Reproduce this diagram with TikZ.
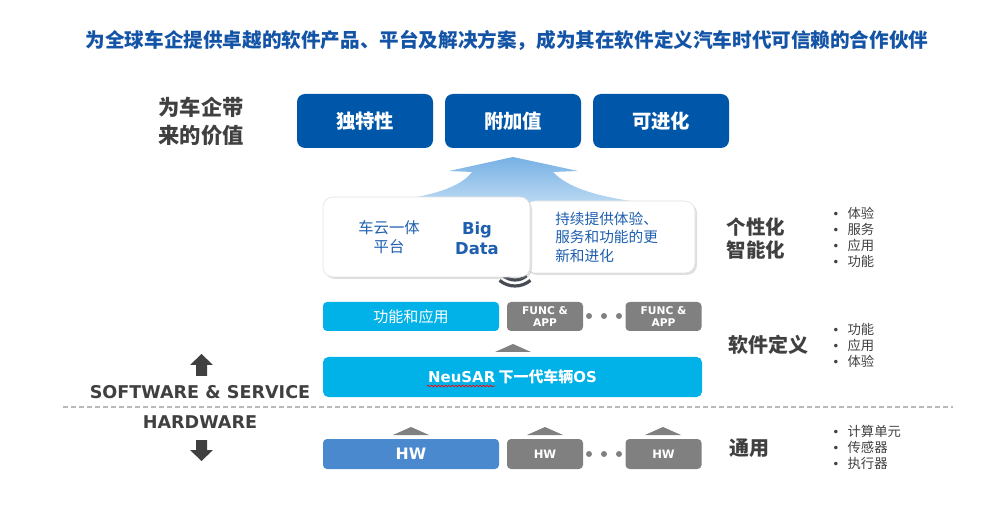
\documentclass[tikz,border=0pt]{standalone}
\usepackage{fontspec}
\setmainfont{Noto Sans CJK SC}
\newfontfamily\cjk{Noto Sans CJK SC}
\newfontfamily\dv{DejaVu Sans}
\usetikzlibrary{shadows,decorations.pathmorphing}
\definecolor{titleblue}{RGB}{20,84,166}
\definecolor{darkblue}{RGB}{0,86,168}
\definecolor{txtblue}{RGB}{30,95,175}
\definecolor{cyanb}{RGB}{0,178,232}
\definecolor{hwblue}{RGB}{74,137,206}
\definecolor{boxgray}{RGB}{128,128,128}
\definecolor{txtgray}{RGB}{64,64,64}
\definecolor{arrowgray}{RGB}{85,85,85}
\definecolor{dashgray}{RGB}{185,185,185}
\definecolor{wifigray}{RGB}{70,75,85}
\definecolor{arrtop}{RGB}{118,176,228}
\definecolor{arrbot}{RGB}{205,228,246}
\newcommand{\bul}[1]{\makebox[11.5pt][l]{\dv\fontsize{9}{10}\selectfont •}#1}
\begin{document}
\begin{tikzpicture}[x=0.75pt,y=-0.75pt,
  valbox/.style={fill=darkblue, rounded corners=6pt, text=white, inner sep=0pt,
    minimum width=102pt, minimum height=40.5pt, font=\cjk\bfseries\fontsize{14.5}{17}\selectfont},
  whitebox/.style={fill=white, draw=black!12, rounded corners=7.5pt, inner sep=0pt,
    drop shadow={opacity=0.25, shadow xshift=1.5pt, shadow yshift=-1.5pt}},
  bluetxt/.style={text=txtblue, align=center, inner sep=0pt},
  smallbox/.style={rounded corners=3pt, inner sep=0pt, minimum height=21.75pt, text=white},
  graybox/.style={smallbox, fill=boxgray, minimum width=57pt},
  graytxt/.style={text=txtgray, inner sep=0pt},
  tri/.style={fill=boxgray},
  dotc/.style={circle, fill=boxgray, inner sep=0pt, minimum size=4.5pt},
  bullets/.style={text=txtgray, anchor=west, align=left, inner sep=0pt, font=\cjk\fontsize{10}{12}\selectfont},
  sidelabel/.style={text=txtgray, inner sep=0pt, align=center, font=\cjk\bfseries\fontsize{14.6}{17.3}\selectfont},
  bigarrow/.style={fill=txtgray}
]
\useasboundingbox (0,0) rectangle (1000,513);

% title
\node[text=titleblue, inner sep=0pt, font=\cjk\bfseries\fontsize{14.7}{17}\selectfont] (title) at (507,40)
  {为全球车企提供卓越的软件产品、平台及解决方案，成为其在软件定义汽车时代可信赖的合作伙伴};

% left value label
\node[graytxt, align=center, font=\cjk\bfseries\fontsize{16}{21}\selectfont] (vlabel) at (201,121) {为车企带\\来的价值};

% value boxes
\node[valbox] (v1) at (365,121) {独特性};
\node[valbox] (v2) at (513,121) {附加值};
\node[valbox] (v3) at (661,121) {可进化};

% big up arrow
\shade[top color=arrtop, bottom color=arrbot]
  (513,157) -- (578,171) -- (553,172)
  .. controls (568,188) and (598,197) .. (645,203) -- (645,215) -- (392,215) -- (392,201)
  .. controls (430,196) and (460,188) .. (472,172) -- (449,171) -- cycle;

% white boxes
\node[whitebox, minimum width=127.5pt, minimum height=54pt] (cont) at (610,237) {};
\node[bluetxt, anchor=west, align=left, font=\cjk\fontsize{11}{13.9}\selectfont] (conttxt) at (555,237)
  {持续提供体验、\\服务和功能的更\\新和进化};

% wifi symbol
\coordinate (wc) at (515,262);
\foreach \r in {12,18,24}
  \draw[wifigray, line width=2.4pt] ([shift={(50:\r)}]wc) arc[start angle=50, end angle=130, radius=\r];

\node[whitebox, minimum width=155.25pt, minimum height=60pt] (cloud) at (426.5,237) {};
\node[bluetxt, font=\cjk\fontsize{11.5}{14.2}\selectfont] (cloudtxt) at (389,237.5) {车云一体\\平台};
\node[bluetxt, font=\dv\bfseries\fontsize{12.3}{15}\selectfont] (bigdata) at (477,238) {Big\\Data};

% function row
\node[smallbox, fill=cyanb, minimum width=132pt, font=\cjk\fontsize{11.3}{13}\selectfont] (func) at (411,316.5) {功能和应用};
\node[graybox, align=center, font=\dv\bfseries\fontsize{8}{9}\selectfont] (fa1) at (545,316.5) {FUNC \&\\APP};
\node[graybox, align=center, font=\dv\bfseries\fontsize{8}{9}\selectfont] (fa2) at (663.5,316.5) {FUNC \&\\APP};
\node[dotc] (d1) at (589,316) {};
\node[dotc] (d2) at (604,316) {};
\node[dotc] (d3) at (619,316) {};

% triangle to OS
\fill[tri] (495,352) -- (513,344) -- (531,352) -- cycle;

% NeuSAR OS
\node[smallbox, fill=cyanb, minimum width=284.25pt, minimum height=30pt, rounded corners=4pt,
  font=\bfseries\fontsize{11.2}{13}\selectfont] (os) at (512.5,377)
  {{\dv NeuSAR} {\cjk 下一代车辆}{\dv OS}};
\draw[red, line width=0.5pt, decorate, decoration={snake, amplitude=0.6pt, segment length=2.6pt}]
  (427,386) -- (495,386);

% dashed separator
\coordinate (dl) at (63,407);
\coordinate (dr) at (953,407);
\draw[dashgray, line width=0.9pt, dash pattern=on 3.5pt off 2.5pt] (dl) -- (dr);

% HW row triangles
\fill[tri] (393,435) -- (411,427) -- (429,435) -- cycle;
\fill[tri] (527,435) -- (545,427) -- (563,435) -- cycle;
\fill[tri] (645,435) -- (663,427) -- (681,435) -- cycle;

\node[smallbox, fill=hwblue, minimum width=132pt, minimum height=22.5pt, font=\dv\bfseries\fontsize{11.8}{13}\selectfont] (hw) at (411,454) {HW};
\node[graybox, minimum height=22.5pt, font=\dv\bfseries\fontsize{8.7}{10}\selectfont] (hw1) at (545,454) {HW};
\node[graybox, minimum height=22.5pt, font=\dv\bfseries\fontsize{8.7}{10}\selectfont] (hw2) at (663.5,454) {HW};
\node[dotc] (e1) at (589,454) {};
\node[dotc] (e2) at (604,454) {};
\node[dotc] (e3) at (619,454) {};

% right labels
\node[sidelabel] (l1) at (756,238.5) {个性化\\智能化};
\node[sidelabel, font=\cjk\bfseries\fontsize{15}{17}\selectfont] (l2) at (768,345) {软件定义};
\node[sidelabel, font=\cjk\bfseries\fontsize{15}{17}\selectfont] (l3) at (749,448) {通用};

\node[bullets] (b1) at (832,237) {\bul{体验}\\\bul{服务}\\\bul{应用}\\\bul{功能}};
\node[bullets] (b2) at (832,345) {\bul{功能}\\\bul{应用}\\\bul{体验}};
\node[bullets] (b3) at (832,447.5) {\bul{计算单元}\\\bul{传感器}\\\bul{执行器}};

% software / hardware
\node[graytxt, font=\dv\bfseries\fontsize{13.2}{15}\selectfont] (sw) at (200,392) {SOFTWARE \& SERVICE};
\node[graytxt, font=\dv\bfseries\fontsize{13.2}{15}\selectfont] (hwl) at (200,422) {HARDWARE};
\fill[bigarrow] (201.5,354) -- (213,365) -- (207,365) -- (207,376) -- (196,376) -- (196,365) -- (190,365) -- cycle;
\fill[bigarrow] (201.5,461) -- (213,450) -- (207,450) -- (207,440) -- (196,440) -- (196,450) -- (190,450) -- cycle;
\end{tikzpicture}
\end{document}
